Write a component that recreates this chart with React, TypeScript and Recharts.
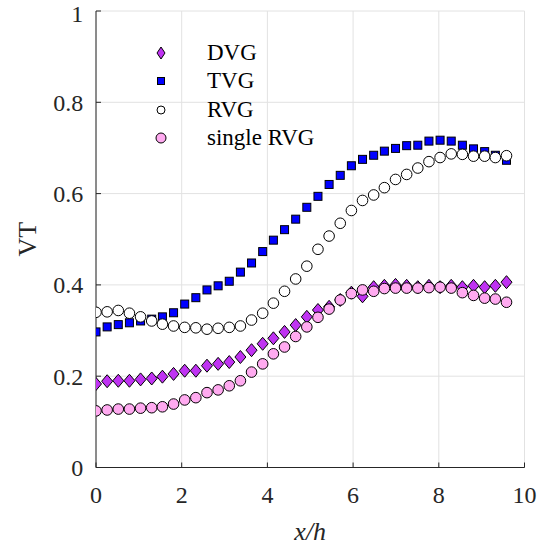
import React from 'react';
import { ScatterChart, Scatter, XAxis, YAxis, CartesianGrid, Legend } from 'recharts';

// DATA
const xh = [
  0, 0.26, 0.52, 0.78, 1.04, 1.3, 1.55, 1.81, 2.07, 2.33, 2.59, 2.85, 3.11, 3.37, 3.63, 3.89, 4.14, 4.4, 4.66,
  4.92, 5.18, 5.44, 5.7, 5.96, 6.22, 6.48, 6.73, 6.99, 7.25, 7.51, 7.77, 8.03, 8.29, 8.55, 8.81, 9.07, 9.32, 9.58,
];
const dvg = [
  0.183, 0.189, 0.19, 0.19, 0.193, 0.195, 0.199, 0.205, 0.212, 0.212, 0.223, 0.227, 0.231, 0.242, 0.257, 0.271, 0.283, 0.297, 0.312,
  0.33, 0.345, 0.352, 0.367, 0.383, 0.375, 0.395, 0.398, 0.4, 0.398, 0.395, 0.398, 0.395, 0.398, 0.395, 0.398, 0.395, 0.398, 0.406,
];
const tvg = [
  0.297, 0.308, 0.313, 0.317, 0.321, 0.325, 0.33, 0.339, 0.358, 0.372, 0.389, 0.398, 0.408, 0.428, 0.448, 0.473, 0.498, 0.521, 0.544,
  0.57, 0.594, 0.62, 0.64, 0.661, 0.675, 0.684, 0.693, 0.699, 0.705, 0.706, 0.715, 0.717, 0.715, 0.706, 0.698, 0.692, 0.684, 0.673,
];
const rvg = [
  0.34, 0.341, 0.344, 0.338, 0.33, 0.321, 0.314, 0.31, 0.307, 0.306, 0.303, 0.305, 0.307, 0.31, 0.323, 0.338, 0.36, 0.386, 0.413,
  0.441, 0.478, 0.507, 0.535, 0.563, 0.585, 0.597, 0.613, 0.631, 0.642, 0.656, 0.67, 0.679, 0.687, 0.686, 0.682, 0.682, 0.679, 0.683,
];
const singleRvg = [
  0.124, 0.126, 0.128, 0.128, 0.13, 0.131, 0.133, 0.139, 0.148, 0.153, 0.164, 0.17, 0.179, 0.19, 0.209, 0.227, 0.249, 0.264, 0.287,
  0.308, 0.329, 0.347, 0.367, 0.381, 0.389, 0.386, 0.392, 0.393, 0.393, 0.393, 0.394, 0.395, 0.393, 0.383, 0.377, 0.371, 0.369, 0.362,
];
const xTicks = [0, 2, 4, 6, 8, 10];
const yTicks = [0, 0.2, 0.4, 0.6, 0.8, 1];

const toPoints = (ys: number[]) => xh.map((x, i) => ({ x, y: ys[i] }));

// STYLE
const FONT = 'Liberation Serif, serif';
const AXIS = '#262626';
const PURPLE = '#bf33f2';
const BLUE = '#0000ff';
const PINK = '#ffaaf0';

// MARKERS
const diamond = (cx: number, cy: number, w: number, h: number) =>
  `M${cx},${cy - h}L${cx + w},${cy}L${cx},${cy + h}L${cx - w},${cy}Z`;

const DiamondDot = (p: any) => <path d={diamond(p.cx, p.cy, 5.5, 6.5)} fill={PURPLE} stroke="#000" strokeWidth={1} />;
const SquareDot = (p: any) => <rect x={p.cx - 4} y={p.cy - 4} width={8} height={8} fill={BLUE} stroke="#000" strokeWidth={1} />;
const OpenDot = (p: any) => <circle cx={p.cx} cy={p.cy} r={5.3} fill="#fff" stroke="#000" strokeWidth={1} />;
const PinkDot = (p: any) => <circle cx={p.cx} cy={p.cy} r={5.3} fill={PINK} stroke="#000" strokeWidth={1} />;

const legendItems = [
  { name: 'DVG', icon: <path d={diamond(11, 14, 4, 6)} fill={PURPLE} stroke="#000" /> },
  { name: 'TVG', icon: <rect x={7.5} y={10.5} width={7} height={7} fill={BLUE} stroke="#000" /> },
  { name: 'RVG', icon: <circle cx={11} cy={14} r={4} fill="#fff" stroke="#000" /> },
  { name: 'single RVG', icon: <circle cx={11} cy={14} r={5} fill={PINK} stroke="#000" /> },
];

const renderLegend = () => (
  <div style={{ fontFamily: FONT, fontSize: 23, color: '#000' }}>
    {legendItems.map((it) => (
      <div key={it.name} style={{ display: 'flex', alignItems: 'center', height: 28.5, lineHeight: '28.5px', whiteSpace: 'nowrap' }}>
        <svg width={22} height={28} style={{ display: 'block' }}>{it.icon}</svg>
        <span style={{ marginLeft: 35 }}>{it.name}</span>
      </div>
    ))}
  </div>
);

const YLabel = (props: any) => {
  const { viewBox } = props;
  const cx = viewBox.x + 27.5;
  const cy = viewBox.y + viewBox.height / 2;
  return (
    <text x={cx} y={cy} transform={`rotate(-90, ${cx}, ${cy})`} textAnchor="middle" dominantBaseline="central"
      style={{ fontFamily: FONT, fontSize: 26 }} fill={AXIS}>VT</text>
  );
};

const XLabel = (props: any) => {
  const { viewBox } = props;
  return (
    <text x={viewBox.x + viewBox.width / 2} y={viewBox.y + 72.5} textAnchor="middle"
      style={{ fontFamily: FONT, fontSize: 26, fontStyle: 'italic' }} fill={AXIS}>x/h</text>
  );
};

const tickStyle = { fontSize: 24, fill: AXIS, style: { fontFamily: FONT } };

// COMPONENT
const App: React.FC = () => {
  return (
    <div style={{ position: 'absolute', left: 0, top: 0, width: 544, height: 546, background: '#fff', fontFamily: FONT }}>
      <ScatterChart width={544} height={546} margin={{ top: 11, right: 19.5, bottom: 0, left: 0 }} style={{ fontFamily: FONT }}>
        <CartesianGrid stroke="#e2e2e2" strokeWidth={1} horizontalValues={yTicks} verticalValues={xTicks} />
        <XAxis type="number" dataKey="x" domain={[0, 10]} ticks={xTicks} height={78.5} stroke={AXIS}
          tickSize={-5} tickMargin={23.5} tick={tickStyle} allowDataOverflow label={<XLabel />} />
        <XAxis xAxisId="top" orientation="top" type="number" dataKey="x" domain={[0, 10]} ticks={xTicks}
          height={0} stroke={AXIS} tickSize={-5} tick={false} allowDataOverflow />
        <YAxis type="number" dataKey="y" domain={[0, 1]} ticks={yTicks} width={96} stroke={AXIS}
          tickSize={-5} tickMargin={17.7} tick={tickStyle} label={<YLabel />} />
        <YAxis yAxisId="right" orientation="right" type="number" dataKey="y" domain={[0, 1]} ticks={yTicks}
          width={0} stroke={AXIS} tickSize={-5} tick={false} />
        <Legend layout="vertical" align="center" verticalAlign="middle" content={renderLegend}
          wrapperStyle={{ left: 150, top: 38.5, width: 'auto' }} />
        <Scatter name="DVG" data={toPoints(dvg)} shape={DiamondDot} isAnimationActive={false} />
        <Scatter name="TVG" data={toPoints(tvg)} shape={SquareDot} isAnimationActive={false} />
        <Scatter name="RVG" data={toPoints(rvg)} shape={OpenDot} isAnimationActive={false} />
        <Scatter name="single RVG" data={toPoints(singleRvg)} shape={PinkDot} isAnimationActive={false} />
      </ScatterChart>
    </div>
  );
};

export default App;
